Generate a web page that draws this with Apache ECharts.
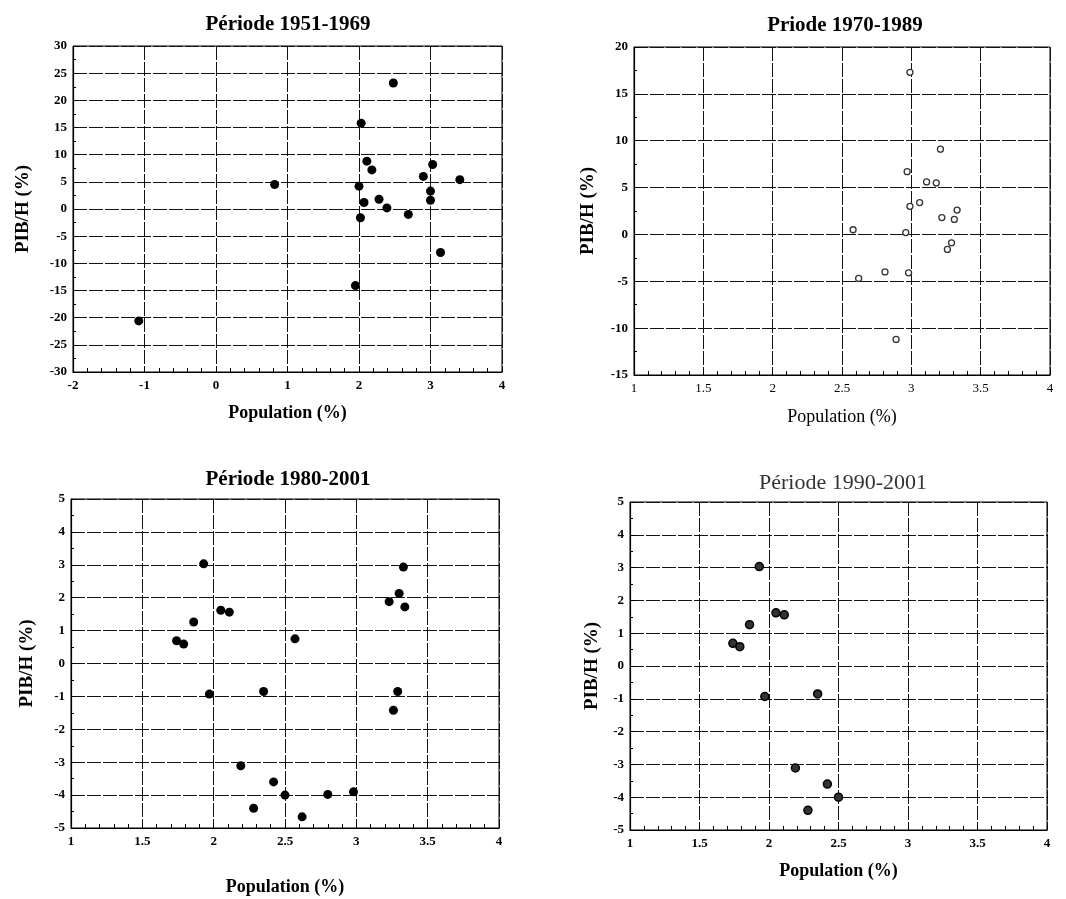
<!DOCTYPE html>
<html>
<head>
<meta charset="utf-8">
<script src="https://cdn.jsdelivr.net/npm/echarts@6/dist/echarts.min.js"></script>
<style>
html, body { margin: 0; padding: 0; background: #fff; }
#main { width: 1066px; height: 899px; }
</style>
</head>
<body>
<div id="main"></div>
<script>
// points [population %, PIB/H %]
var p1951 = [[2.48, 23.2], [2.03, 15.8], [2.11, 8.8], [2.18, 7.2], [2.0, 4.2], [0.82, 4.5],
    [2.07, 1.2], [2.28, 1.8], [2.39, 0.2], [2.02, -1.6], [2.69, -1.0], [2.9, 6.0],
    [3.03, 8.2], [3.41, 5.4], [3.0, 3.3], [3.0, 1.6], [3.14, -8.0], [1.95, -14.1], [-1.08, -20.6]];
var p1970 = [[2.99, 17.3], [3.21, 9.1], [2.97, 6.7], [3.11, 5.6], [3.18, 5.5], [2.99, 3.0],
    [3.06, 3.4], [3.22, 1.8], [3.33, 2.6], [3.31, 1.6], [2.96, 0.2], [3.26, -1.6], [3.29, -0.9],
    [2.58, 0.5], [2.81, -4.0], [2.98, -4.1], [2.62, -4.7], [2.89, -11.2]];
var p1980 = [[1.93, 3.03], [1.86, 1.26], [1.74, 0.69], [1.79, 0.59], [2.05, 1.62], [2.11, 1.56],
    [1.97, -0.93], [2.35, -0.85], [2.57, 0.75], [2.19, -3.11], [2.42, -3.6], [2.28, -4.4],
    [2.5, -4.0], [2.62, -4.66], [2.8, -3.98], [2.98, -3.9], [3.33, 2.93], [3.3, 2.13],
    [3.23, 1.88], [3.34, 1.72], [3.29, -0.85], [3.26, -1.42]];
var p1990 = [[1.93, 3.03], [1.86, 1.26], [1.74, 0.69], [1.79, 0.59], [2.05, 1.62], [2.11, 1.56],
    [1.97, -0.93], [2.35, -0.85], [2.19, -3.11], [2.42, -3.6], [2.28, -4.4], [2.5, -4.0]];

var titles = ['Période 1951-1969', 'Priode 1970-1989', 'Période 1980-2001', 'Période 1990-2001'];
var xRanges = [[-2, 4, 1], [1, 4, 0.5], [1, 4, 0.5], [1, 4, 0.5]];
var yRanges = [[-30, 30, 5], [-15, 20, 5], [-5, 5, 1], [-5, 5, 1]];

var serif = '"Liberation Serif", "DejaVu Serif", serif';
var grids = [
    { left: 73, top: 46, width: 429, height: 326 },
    { left: 634, top: 47, width: 416, height: 328 },
    { left: 71, top: 499, width: 428, height: 329 },
    { left: 630, top: 502, width: 417, height: 328 }
];
var titlePos = [[283, 9], [840, 10], [283, 464], [838, 467]];
var xNameGap = [32, 33, 50, 32];
var yNameGap = [40, 36, 34, 28];

var dom = document.getElementById('main');
var myChart = echarts.init(dom);

var option = {
    backgroundColor: '#fff',
    animation: false,
    title: titles.map(function (t, i) {
        return {
            text: t,
            left: titlePos[i][0],
            top: titlePos[i][1],
            textAlign: 'center',
            textStyle: {
                fontFamily: serif,
                fontSize: i === 3 ? 22 : 21,
                fontWeight: i === 3 ? 'normal' : 'bold',
                color: i === 3 ? '#333' : '#000'
            }
        };
    }),
    grid: grids.map(function (g) {
        return Object.assign({ show: true, borderColor: '#000', borderWidth: 1, backgroundColor: '#fff' }, g);
    }),
    xAxis: xRanges.map(function (r, i) {
        return {
            type: 'value',
            gridIndex: i,
            min: r[0], max: r[1], interval: r[2],
            name: 'Population (%)',
            nameLocation: 'middle',
            nameGap: xNameGap[i],
            nameTextStyle: { fontFamily: serif, fontSize: 18, fontWeight: i === 1 ? 'normal' : 'bold', color: '#000' },
            axisLine: { onZero: false, lineStyle: { color: '#000', width: 1.2 } },
            axisTick: { show: true, inside: true, length: 5, lineStyle: { color: '#000' } },
            minorTick: { show: true, splitNumber: 5, length: 4, lineStyle: { color: '#000' } },
            axisLabel: { fontFamily: serif, fontSize: 13, fontWeight: i === 1 ? 'normal' : 'bold', color: '#000', margin: 7 },
            splitLine: { show: true, lineStyle: { color: '#111', width: 1, type: [14, 2] } }
        };
    }),
    yAxis: yRanges.map(function (r, i) {
        return {
            type: 'value',
            gridIndex: i,
            min: r[0], max: r[1], interval: r[2],
            name: 'PIB/H (%)',
            nameLocation: 'middle',
            nameGap: yNameGap[i],
            nameTextStyle: { fontFamily: serif, fontSize: 19, fontWeight: 'bold', color: '#000' },
            axisLine: { onZero: false, lineStyle: { color: '#000', width: 1.2 } },
            axisTick: { show: true, inside: true, length: 5, lineStyle: { color: '#000' } },
            minorTick: { show: true, splitNumber: 2, length: 3, lineStyle: { color: '#000' } },
            axisLabel: { fontFamily: serif, fontSize: 13, fontWeight: 'bold', color: '#000', margin: 6 },
            splitLine: { show: true, lineStyle: { color: '#111', width: 1, type: [14, 2] } }
        };
    }),
    series: [
        {
            type: 'scatter', xAxisIndex: 0, yAxisIndex: 0, data: p1951,
            symbolSize: 9, itemStyle: { color: '#000', opacity: 1 }
        },
        {
            type: 'scatter', xAxisIndex: 1, yAxisIndex: 1, data: p1970,
            symbolSize: 6, itemStyle: { color: '#fff', borderColor: '#333', borderWidth: 1.3, opacity: 1 }
        },
        {
            type: 'scatter', xAxisIndex: 2, yAxisIndex: 2, data: p1980,
            symbolSize: 9, itemStyle: { color: '#000', opacity: 1 }
        },
        {
            type: 'scatter', xAxisIndex: 3, yAxisIndex: 3, data: p1990,
            symbolSize: 8, itemStyle: { color: '#333', borderColor: '#000', borderWidth: 1.5, opacity: 1 }
        }
    ]
};
myChart.setOption(option);
</script>
</body>
</html>
